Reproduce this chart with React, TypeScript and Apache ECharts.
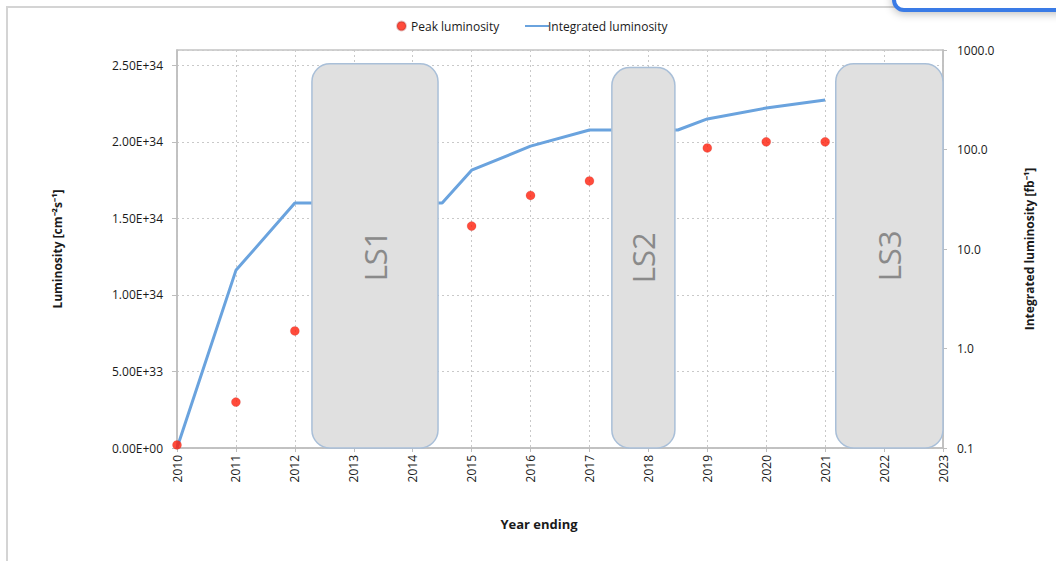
import React, { useEffect, useRef } from "react";
import * as echarts from "echarts";

// Data
const peakYears = [2010, 2011, 2012, 2015, 2016, 2017, 2019, 2020, 2021];
const peakLumi = [2.0e32, 3.0e33, 7.65e33, 1.45e34, 1.65e34, 1.745e34, 1.96e34, 2.0e34, 2.0e34];

const intYears = [2010, 2011, 2012, 2014.5, 2015, 2016, 2017, 2018.5, 2019, 2020, 2021];
const intLumi = [0.1, 6.1, 29, 29, 62, 108, 157, 157, 203, 261, 314];

const shutdownNames = ["LS1", "LS2", "LS3"];
const shutdownStart = [2012.29, 2017.38, 2021.18];
const shutdownEnd = [2014.43, 2018.45, 2023.0];
const shutdownTop = [2.51e34, 2.485e34, 2.51e34];

const FONT = "'Open Sans', 'Liberation Sans', sans-serif";

function fmtLeft(v: number): string {
  if (v > 2.5e34 + 1e30) return "";
  if (v === 0) return "0.00E+00";
  const s = v.toExponential(2).toUpperCase();
  const [m, e] = s.split("E");
  const sign = e[0];
  const digits = e.slice(1).padStart(2, "0");
  return `${m}E${sign}${digits}`;
}

export default function App() {
  const ref = useRef<HTMLDivElement>(null);

  useEffect(() => {
    if (!ref.current) return;
    const chart = echarts.init(ref.current, undefined, { renderer: "svg" });

    const gridLine = { show: true, lineStyle: { color: "#c9c9c9", type: [2, 3] as any, width: 1 } };
    const legendText = { fontSize: 12, color: "#1a1a1a", fontFamily: FONT };

    chart.setOption({
      animation: false,
      backgroundColor: "transparent",
      textStyle: { fontFamily: FONT },
      legend: [
        {
          top: 15,
          left: 391,
          itemWidth: 9,
          itemHeight: 9,
          itemGap: 4,
          textStyle: legendText,
          data: [{ name: "Peak luminosity", icon: "circle" }],
        },
        {
          top: 15,
          left: 519,
          itemWidth: 24,
          itemHeight: 9,
          textStyle: { ...legendText, padding: [0, 0, 0, -6] },
          data: [{ name: "Integrated luminosity", itemStyle: { opacity: 0 } }],
        },
      ],
      title: {
        text: "Year ending",
        left: 534,
        top: 512,
        textAlign: "center",
        textStyle: { fontSize: 13, fontWeight: "bold", color: "#1a1a1a", fontFamily: FONT },
      },
      grid: { left: 177, right: 113, top: 50, bottom: 113, show: true, borderColor: "#c4c4c4", borderWidth: 1.5 },
      xAxis: {
        type: "value",
        min: 2010,
        max: 2023,
        interval: 1,
        axisLine: { show: true, lineStyle: { color: "#bdbdbd", width: 1.5 } },
        axisTick: { show: true, length: 4, lineStyle: { color: "#bdbdbd" } },
        axisLabel: {
          rotate: 90,
          margin: 7,
          fontSize: 12,
          color: "#1a1a1a",
          fontFamily: FONT,
          formatter: (v: number) => String(Math.round(v)),
        },
        splitLine: gridLine,
      },
      yAxis: [
        {
          type: "value",
          min: 0,
          max: 2.6e34,
          interval: 0.5e34,
          name: "Luminosity [cm⁻²s⁻¹]",
          nameLocation: "middle",
          nameGap: 114,
          nameTextStyle: { fontSize: 12, fontWeight: "bold", color: "#1a1a1a", fontFamily: FONT },
          axisLine: { show: true, lineStyle: { color: "#bdbdbd", width: 1.5 } },
          axisTick: { show: true, length: 5, lineStyle: { color: "#bdbdbd" } },
          axisLabel: { margin: 14, fontSize: 12, color: "#1a1a1a", fontFamily: FONT, formatter: fmtLeft, showMaxLabel: false },
          splitLine: gridLine,
        },
        {
          type: "log",
          logBase: 10,
          min: 0.1,
          max: 1000,
          position: "right",
          name: "Integrated luminosity [fb⁻¹]",
          nameLocation: "middle",
          nameGap: 80,
          nameTextStyle: { fontSize: 12, fontWeight: "bold", color: "#1a1a1a", fontFamily: FONT },
          axisLine: { show: true, lineStyle: { color: "#bdbdbd", width: 1.5 } },
          axisTick: { show: true, length: 4, lineStyle: { color: "#bdbdbd" } },
          axisLabel: {
            margin: 14,
            fontSize: 12,
            color: "#1a1a1a",
            fontFamily: FONT,
            formatter: (v: number) => Number(v).toFixed(1),
          },
          splitLine: { show: false },
        },
      ],
      series: [
        {
          name: "Peak luminosity",
          type: "scatter",
          yAxisIndex: 0,
          symbol: "circle",
          symbolSize: 9,
          itemStyle: { color: "#ff1e0a", borderColor: "rgba(150,40,40,0.35)", borderWidth: 0.5 },
          data: peakYears.map((y, i) => [y, peakLumi[i]]),
          z: 3,
        },
        {
          name: "Integrated luminosity",
          type: "line",
          yAxisIndex: 1,
          symbol: "none",
          lineStyle: { color: "#6aa3de", width: 3 },
          itemStyle: { color: "#6aa3de" },
          data: intYears.map((y, i) => [y, intLumi[i]]),
          z: 2,
        },
        {
          type: "custom",
          yAxisIndex: 0,
          z: 5,
          silent: true,
          clip: false,
          data: shutdownNames.map((_, i) => [shutdownStart[i], shutdownEnd[i], 0, shutdownTop[i]]),
          renderItem: (params: any, api: any) => {
            const p0 = api.coord([api.value(0), api.value(3)]);
            const p1 = api.coord([api.value(1), api.value(2)]);
            const w = p1[0] - p0[0];
            const h = p1[1] - p0[1];
            return {
              type: "group",
              children: [
                {
                  type: "rect",
                  shape: { x: p0[0], y: p0[1], width: w, height: h, r: 18 },
                  style: { fill: "#e0e0e0", stroke: "#a9bfd8", lineWidth: 1.5 },
                },
                {
                  type: "text",
                  x: p0[0] + w / 2,
                  y: p0[1] + h / 2,
                  rotation: Math.PI / 2,
                  style: {
                    text: shutdownNames[params.dataIndex],
                    fill: "#8a8a8a",
                    fontSize: 31,
                    fontFamily: FONT,
                    align: "center",
                    verticalAlign: "middle",
                  },
                },
              ],
            };
          },
        },
      ],
    });

    return () => chart.dispose();
  }, []);

  return (
    <div style={{ position: "fixed", left: 0, top: 0, width: 1056, height: 561, background: "#fff", overflow: "hidden" }}>
      <div
        style={{
          position: "absolute",
          left: 6,
          top: 6,
          width: 1100,
          height: 600,
          borderLeft: "2px solid #d4d4d4",
          borderTop: "2px solid #d4d4d4",
        }}
      />
      <div ref={ref} style={{ position: "absolute", left: 0, top: 0, width: 1056, height: 561 }} />
      <div
        style={{
          position: "absolute",
          left: 892,
          top: -30,
          width: 200,
          height: 34,
          border: "4px solid #3a7be6",
          borderRadius: 12,
          background: "#fff",
          boxShadow: "0 2px 8px rgba(0,0,0,0.25)",
        }}
      />
    </div>
  );
}
